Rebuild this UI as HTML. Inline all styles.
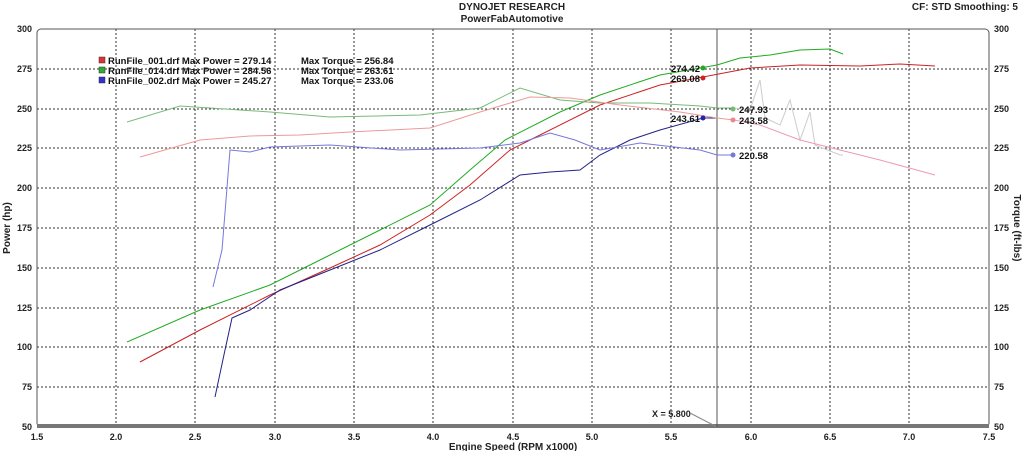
<!DOCTYPE html><html><head><style>body{margin:0;background:#fff}svg text{font-family:"Liberation Sans",sans-serif;font-weight:bold}</style></head><body>
<svg width="1024" height="451" viewBox="0 0 1024 451" xmlns="http://www.w3.org/2000/svg">
<rect width="1024" height="451" fill="#fff"/>
<text x="512" y="10" font-size="10" text-anchor="middle" fill="#222">DYNOJET RESEARCH</text>
<text x="512" y="22" font-size="10" text-anchor="middle" fill="#222">PowerFabAutomotive</text>
<text x="1018" y="10" font-size="10" text-anchor="end" fill="#222">CF: STD  Smoothing: 5</text>
<g stroke="#333" stroke-width="1" stroke-dasharray="2,2" fill="none">
<path d="M116 29V427M195 29V427M275 29V427M354 29V427M433 29V427M513 29V427M592 29V427M671 29V427M751 29V427M830 29V427M909 29V427"/>
<path d="M37 69H989M37 109H989M37 148H989M37 188H989M37 228H989M37 268H989M37 308H989M37 347H989M37 387H989"/>
</g>
<rect x="37" y="29" width="952" height="398" rx="4" fill="none" stroke="#555"/>
<rect x="37" y="424" width="952" height="4" fill="#777"/>
<g font-size="9" fill="#222">
<text x="32" y="32" text-anchor="end">300</text><text x="32" y="72" text-anchor="end">275</text><text x="32" y="112" text-anchor="end">250</text><text x="32" y="151" text-anchor="end">225</text><text x="32" y="191" text-anchor="end">200</text><text x="32" y="231" text-anchor="end">175</text><text x="32" y="271" text-anchor="end">150</text><text x="32" y="311" text-anchor="end">125</text><text x="32" y="350" text-anchor="end">100</text><text x="32" y="390" text-anchor="end">75</text><text x="32" y="430" text-anchor="end">50</text>
<text x="994" y="32">300</text><text x="994" y="72">275</text><text x="994" y="112">250</text><text x="994" y="151">225</text><text x="994" y="191">200</text><text x="994" y="231">175</text><text x="994" y="271">150</text><text x="994" y="311">125</text><text x="994" y="350">100</text><text x="994" y="390">75</text><text x="994" y="430">50</text>
<g text-anchor="middle"><text x="37" y="440">1.5</text><text x="116" y="440">2.0</text><text x="195" y="440">2.5</text><text x="275" y="440">3.0</text><text x="354" y="440">3.5</text><text x="433" y="440">4.0</text><text x="513" y="440">4.5</text><text x="592" y="440">5.0</text><text x="671" y="440">5.5</text><text x="751" y="440">6.0</text><text x="830" y="440">6.5</text><text x="909" y="440">7.0</text><text x="989" y="440">7.5</text></g>
<text x="513" y="450" text-anchor="middle" font-size="10">Engine Speed (RPM x1000)</text>
<text x="10" y="228" font-size="10" text-anchor="middle" transform="rotate(-90 10 228)">Power (hp)</text>
<text x="1014" y="228" font-size="10" text-anchor="middle" transform="rotate(90 1014 228)">Torque (ft-lbs)</text>
<text x="652" y="417">X = 5.800</text>
</g>
<path d="M690 413L717 427" stroke="#888" fill="none"/>
<line x1="717" y1="29" x2="717" y2="427" stroke="#555"/>
<g font-size="9.5" fill="#111">
<rect x="99" y="57" width="6" height="6" fill="#d33" stroke="#333" stroke-width=".5"/><text x="108" y="64">RunFile_001.drf Max Power = 279.14</text><text x="301" y="64">Max Torque = 256.84</text>
<rect x="99" y="67" width="6" height="6" fill="#3a3" stroke="#333" stroke-width=".5"/><text x="108" y="74">RunFile_014.drf Max Power = 284.56</text><text x="301" y="74">Max Torque = 263.61</text>
<rect x="99" y="77" width="6" height="6" fill="#33c" stroke="#333" stroke-width=".5"/><text x="108" y="84">RunFile_002.drf Max Power = 245.27</text><text x="301" y="84">Max Torque = 233.06</text>
</g>
<g fill="none" stroke-width="1">
<polyline stroke="#ccc" points="734,108 750,110 760,80 765,118 780,125 790,100 800,140 810,112 815,145 840,155 843,155"/>
<polyline stroke="#e9b" points="734,120 760,125 800,140 840,150 880,160 935,175"/>
<polyline stroke="#2a2" points="127,342 200,310 270,285 330,255 380,230 430,205 470,170 505,140 560,112 600,95 660,75 717,65 740,58 770,55 800,50 830,49 843,54"/>
<polyline stroke="#c22" points="140,362 200,330 270,295 330,268 380,245 430,215 470,185 510,150 540,135 600,105 660,85 703,77 750,68 800,65 860,66 900,64 935,66"/>
<polyline stroke="#228" points="215,397 225,350 232,318 250,310 280,290 330,270 380,250 430,225 480,200 520,175 550,172 580,170 600,155 630,140 660,130 703,118 717,118"/>
<polyline stroke="#77d" points="213,287 222,250 230,150 250,152 270,147 330,145 400,150 480,148 520,143 550,133 575,140 600,150 640,143 700,150 717,155 733,155"/>
<polyline stroke="#7b7" points="127,122 180,106 270,112 330,117 420,115 480,108 520,88 560,100 600,103 650,103 700,106 717,108 734,108"/>
<polyline stroke="#e99" points="140,157 200,140 250,136 300,135 350,132 430,128 480,112 530,97 570,98 620,105 680,112 717,118 734,120"/>
</g>
<g font-size="9.5" fill="#111">
<circle cx="703" cy="68" r="2.5" fill="#2a2"/><text x="700" y="72" text-anchor="end">274.42</text>
<circle cx="703" cy="78" r="2.5" fill="#c22"/><text x="700" y="82" text-anchor="end">269.08</text>
<circle cx="703" cy="118" r="2.5" fill="#22a"/><text x="700" y="122" text-anchor="end">243.61</text>
<circle cx="733" cy="109" r="2.5" fill="#7b7"/><text x="739" y="113">247.93</text>
<circle cx="733" cy="120" r="2.5" fill="#e88"/><text x="739" y="124">243.58</text>
<circle cx="733" cy="155" r="2.5" fill="#77d"/><text x="739" y="159">220.58</text>
</g>
</svg></body></html>
